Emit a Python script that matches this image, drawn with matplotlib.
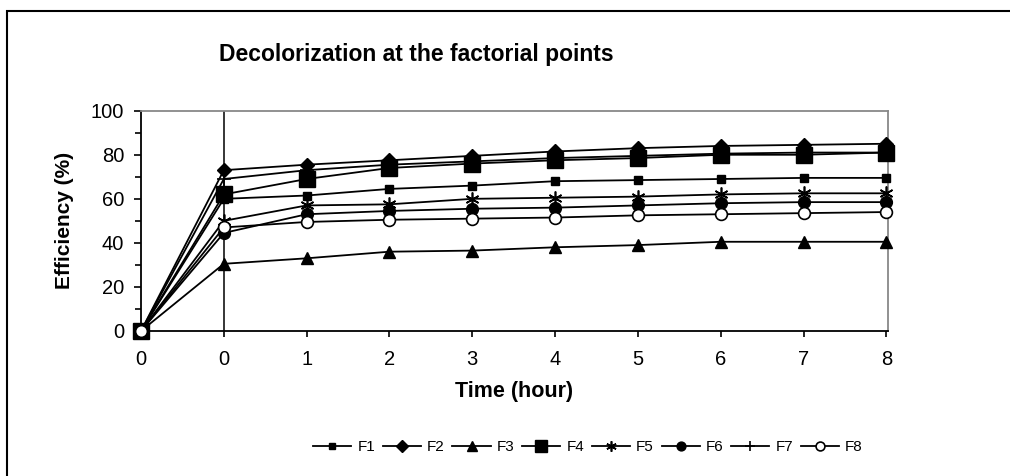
import matplotlib
matplotlib.use("Agg")
import matplotlib.pyplot as plt
from matplotlib.patches import Rectangle
from matplotlib.ticker import MultipleLocator

plt.rcParams['font.family'] = ['Liberation Sans', 'DejaVu Sans']

# categories on the time axis (Excel category axis, first "0" is the start)
time_labels = ["0", "0", "1", "2", "3", "4", "5", "6", "7", "8"]

F1 = [0, 60, 61.5, 64.5, 66, 68, 68.5, 69, 69.5, 69.5]
F2 = [0, 73, 75.5, 77.5, 79.5, 81.5, 83, 84, 84.5, 85]
F3 = [0, 30.5, 33, 36, 36.5, 38, 39, 40.5, 40.5, 40.5]
F4 = [0, 62, 69, 74, 76, 77.5, 78.5, 80, 80, 81]
F5 = [0, 50, 57, 57.5, 60, 60.5, 61, 62, 62.5, 62.5]
F6 = [0, 44.5, 53, 54.5, 55.5, 56, 57, 58, 58.5, 58.5]
F7 = [0, 69, 73, 75.5, 77, 78.5, 79.5, 80.5, 81, 81]
F8 = [0, 47, 49.5, 50.5, 51, 51.5, 52.5, 53, 53.5, 54]

series = [("F1", F1), ("F2", F2), ("F3", F3), ("F4", F4),
          ("F5", F5), ("F6", F6), ("F7", F7), ("F8", F8)]
styles = {
    "F1": dict(marker="s", ms=6, mfc="black"),
    "F2": dict(marker="D", ms=7.5, mfc="black"),
    "F3": dict(marker="^", ms=9, mfc="black"),
    "F4": dict(marker="s", ms=11, mfc="black"),
    "F5": dict(marker=(6, 2, 0), ms=10, mfc="black", mew=1.2),
    "F6": dict(marker="o", ms=8.5, mfc="black"),
    "F7": dict(marker="+", ms=10, mfc="black", mew=1.2),
    "F8": dict(marker="o", ms=8.5, mfc="white", mew=1.2),
}

fig = plt.figure(figsize=(10.1, 4.76), dpi=100)
ax = fig.add_axes([141 / 1010, 1 - 331 / 476, (888 - 141) / 1010, (331 - 110.7) / 476])

x = list(range(len(time_labels)))
ax.axvline(1, color="black", lw=1.1, zorder=1)
for name, vals in series:
    ax.plot(x, vals, color="black", lw=1.3, mec="black", label=name,
            clip_on=False, zorder=3, **styles[name])

ax.set_xlim(0, 9.02)
ax.set_ylim(0, 100)
ax.set_xticks(x)
ax.set_xticklabels(time_labels)
ax.yaxis.set_major_locator(MultipleLocator(20))
ax.yaxis.set_minor_locator(MultipleLocator(10))
ax.tick_params(axis="both", direction="out", labelsize=14.5, width=1.2, length=5, pad=7)
ax.tick_params(axis="y", which="minor", direction="out", length=4, width=1.2)
ax.tick_params(axis="x", length=4, pad=9.5)

ax.spines["left"].set_linewidth(1.3)
ax.spines["bottom"].set_linewidth(1.3)
for s in ("top", "right"):
    ax.spines[s].set_color("#888888")
    ax.spines[s].set_linewidth(1.3)

ax.set_xlabel("Time (hour)", fontsize=15.5, fontweight="bold", labelpad=9)
ax.set_ylabel("Efficiency (%)", fontsize=15, fontweight="bold", labelpad=12)
fig.text(416 / 1010, 1 - 55 / 476, "Decolorization at the factorial points",
         fontsize=16.5, fontweight="bold", ha="center", va="center")

leg = fig.legend(loc="center", bbox_to_anchor=(588 / 1010, 1 - 447 / 476), ncol=8,
                 frameon=False, fontsize=11, handlelength=2.5, columnspacing=0.5,
                 handletextpad=0.4, markerscale=0.75)

fig.patches.append(Rectangle((7 / 1010, -0.1), 2, (476 - 11) / 476 + 0.1,
                             transform=fig.transFigure, fill=False,
                             edgecolor="black", lw=1.5))

fig.savefig("out.png", dpi=100)
